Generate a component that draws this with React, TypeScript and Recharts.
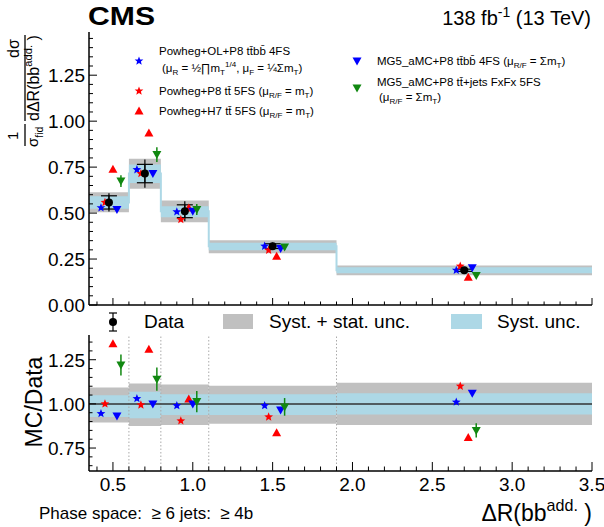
import React from 'react';
import {
    ComposedChart,
    Scatter,
    Line,
    XAxis,
    YAxis,
    ReferenceArea,
    ReferenceLine,
    ErrorBar
} from 'recharts';

const font = '"Liberation Sans", Arial, Helvetica, sans-serif';

// binning in dR(bb add.)
const binEdges = [0.35, 0.6, 0.8, 1.1, 1.9, 3.5];
const binCenters = [0.475, 0.7, 0.95, 1.5, 2.7];

// normalised cross section: data
const dataVal = [0.558, 0.715, 0.51, 0.32, 0.189];
const dataErrTot = [0.05, 0.077, 0.055, 0.02, 0.01];
const dataErrSyst = [0.036, 0.05, 0.035, 0.013, 0.006];
const totLo = [0.504, 0.632, 0.45, 0.282, 0.162];
const totHi = [0.613, 0.796, 0.568, 0.352, 0.215];
const systLo = [0.523, 0.664, 0.477, 0.298, 0.173];
const systHi = [0.591, 0.764, 0.537, 0.338, 0.205];

// predictions
const powOL = [0.529, 0.736, 0.507, 0.32, 0.189];
const powP8 = [0.558, 0.715, 0.465, 0.298, 0.211];
const powH7 = [0.739, 0.935, 0.528, 0.265, 0.151];
const mgTtbb = [0.52, 0.715, 0.51, 0.307, 0.202];
const mgFxFx = [0.674, 0.818, 0.519, 0.315, 0.16];
const mgFxFxErr = [0.032, 0.04, 0.03, 0.016, 0.008];

// MC / data
const rPowOL = [0.945, 1.03, 0.99, 0.99, 1.01];
const rPowP8 = [1.0, 0.994, 0.904, 0.926, 1.1];
const rPowH7 = [1.34, 1.31, 1.027, 0.837, 0.81];
const rMgTtbb = [0.932, 1.0, 1.0, 0.966, 1.06];
const rMgFxFx = [1.22, 1.14, 1.013, 0.983, 0.85];
const rMgFxFxErr = [0.06, 0.066, 0.06, 0.05, 0.04];
const rTotLo = [0.894, 0.875, 0.88, 0.888, 0.88];
const rTotHi = [1.093, 1.115, 1.11, 1.102, 1.12];
const rSystLo = [0.926, 0.919, 0.937, 0.937, 0.94];
const rSystHi = [1.049, 1.068, 1.055, 1.055, 1.06];

// axis ticks
const xMajor = [0.5, 1.0, 1.5, 2.0, 2.5, 3.0, 3.5];
const yTopMajor = [0, 0.25, 0.5, 0.75, 1.0, 1.25];
const yRatioMajor = [0.75, 1.0, 1.25];

const fill = (from: number, to: number, step: number) => {
    const out: number[] = [];
    for (let i = Math.round(from / step); i <= Math.round(to / step); i++) out.push(+(i * step).toFixed(3));
    return out;
};
const xTicks = fill(0.4, 3.5, 0.1);
const yTopTicks = fill(0, 1.45, 0.05);
const yRatioTicks = fill(0.65, 1.35, 0.05);

// horizontal dodge of the markers inside a bin
const off = { powOL: -0.05, powP8: -0.025, data: 0, powH7: 0.025, mgTtbb: 0.05, mgFxFx: 0.075 };

const pts = (vals: number[], dx: number, err?: number[], err2?: number[]) =>
    vals.map((y, i) => ({ x: binCenters[i] + dx, y, e: err ? err[i] : 0, s: err2 ? err2[i] : 0 }));

const stepData = binEdges.map((x, i) => ({ x, y: dataVal[Math.min(i, dataVal.length - 1)] }));

const BLUE = '#0000ff';
const RED = '#ff0000';
const GREEN = '#118811';
const GREY = '#c0c0c0';
const LBLUE = '#add8e6';

function starPath(cx: number, cy: number, R: number, r: number) {
    let d = '';
    for (let k = 0; k < 10; k++) {
        const a = -Math.PI / 2 + (k * Math.PI) / 5;
        const rad = k % 2 === 0 ? R : r;
        d += (k ? 'L' : 'M') + (cx + rad * Math.cos(a)).toFixed(2) + ',' + (cy + rad * Math.sin(a)).toFixed(2);
    }
    return d + 'Z';
}

const Star = (color: string) => (p: any) =>
    p.cx == null ? <g /> : <path d={starPath(p.cx, p.cy, 4.6, 2)} fill={color} />;
const TriUp = (color: string) => (p: any) =>
    p.cx == null ? <g /> : <path d={`M${p.cx},${p.cy - 4.5}L${p.cx + 4.5},${p.cy + 3.5}L${p.cx - 4.5},${p.cy + 3.5}Z`} fill={color} />;
const TriDown = (color: string) => (p: any) =>
    p.cx == null ? <g /> : <path d={`M${p.cx},${p.cy + 4.5}L${p.cx + 4.5},${p.cy - 3.5}L${p.cx - 4.5},${p.cy - 3.5}Z`} fill={color} />;
const Dot = (p: any) => (p.cx == null ? <g /> : <circle cx={p.cx} cy={p.cy} r={4} fill="#000" />);

function makeTick(side: string, step: number, maj: number, min: number, label?: (v: number) => string) {
    return (p: any) => {
        const { x, y, payload } = p;
        const v = payload.value;
        const major = Math.abs(v / step - Math.round(v / step)) < 1e-6;
        const l = major ? maj : min;
        let x2 = x, y2 = y;
        if (side === 'b') y2 = y - l;
        else if (side === 't') y2 = y + l;
        else if (side === 'l') x2 = x + l;
        else x2 = x - l;
        return (
            <g>
                <line x1={x} y1={y} x2={x2} y2={y2} stroke="#000" strokeWidth={1} />
                {major && label && side === 'b' && (
                    <text x={x} y={y + 20} textAnchor="middle" fontSize={19} fontFamily={font} fill="#000">{label(v)}</text>
                )}
                {major && label && side === 'l' && (
                    <text x={x - 4} y={y + 7} textAnchor="end" fontSize={19} fontFamily={font} fill="#000">{label(v)}</text>
                )}
            </g>
        );
    };
}

const frame = { stroke: '#000', strokeWidth: 1.5 };

function Rich({ x, y, size, parts, anchor }: { x: number; y: number; size: number; parts: [string, string][]; anchor?: string }) {
    let cur = 0;
    return (
        <text x={x} y={y} fontSize={size} fontFamily={font} textAnchor={anchor || 'start'} fill="#000" style={{ whiteSpace: 'pre' }}>
            {parts.map(([t, k], i) => {
                const target = k === 'sub' ? size * 0.3 : k === 'sup' ? -size * 0.42 : 0;
                const dy = target - cur;
                cur = target;
                return (
                    <tspan key={i} dy={dy} fontSize={k === 'n' ? size : size * 0.7}>{t}</tspan>
                );
            })}
        </text>
    );
}

function TopPanel() {
    return (
        <ComposedChart width={604} height={318} margin={{ top: 32, right: 12, bottom: 0, left: 0 }}>
            <XAxis xAxisId={0} dataKey="x" type="number" domain={[0.35, 3.5]} ticks={xTicks} interval={0}
                tickSize={0} tickMargin={0} tickLine={false} axisLine={frame} height={13} allowDataOverflow
                tick={makeTick('b', 0.5, 7, 3.5)} />
            <XAxis xAxisId="t" orientation="top" type="number" domain={[0.35, 3.5]} ticks={xTicks} interval={0}
                tickSize={0} tickMargin={0} tickLine={false} axisLine={frame} height={0} allowDataOverflow
                tick={makeTick('t', 0.5, 7, 3.5)} />
            <YAxis yAxisId={0} dataKey="y" type="number" domain={[0, 1.485]} ticks={yTopTicks} interval={0}
                tickSize={0} tickMargin={0} tickLine={false} axisLine={frame} width={89} allowDataOverflow
                tick={makeTick('l', 0.25, 8, 4, (v) => v.toFixed(2))} />
            <YAxis yAxisId="r" orientation="right" type="number" domain={[0, 1.485]} ticks={yTopTicks} interval={0}
                tickSize={0} tickMargin={0} tickLine={false} axisLine={frame} width={0} allowDataOverflow
                tick={makeTick('r', 0.25, 8, 4)} />

            {binCenters.map((_, i) => (
                <ReferenceArea key={'g' + i} x1={binEdges[i]} x2={binEdges[i + 1]} y1={totLo[i]} y2={totHi[i]}
                    fill={GREY} fillOpacity={1} stroke="none" ifOverflow="hidden" />
            ))}
            {binCenters.map((_, i) => (
                <ReferenceArea key={'b' + i} x1={binEdges[i]} x2={binEdges[i + 1]} y1={systLo[i]} y2={systHi[i]}
                    fill={LBLUE} fillOpacity={1} stroke="none" ifOverflow="hidden" />
            ))}
            <Line data={stepData} dataKey="y" type="stepAfter" stroke={LBLUE} strokeWidth={2} dot={false}
                isAnimationActive={false} />

            <Scatter data={pts(powOL, off.powOL)} shape={Star(BLUE)} isAnimationActive={false} />
            <Scatter data={pts(powP8, off.powP8)} shape={Star(RED)} isAnimationActive={false} />
            <Scatter data={pts(powH7, off.powH7)} shape={TriUp(RED)} isAnimationActive={false} />
            <Scatter data={pts(mgTtbb, off.mgTtbb)} shape={TriDown(BLUE)} isAnimationActive={false} />
            <Scatter data={pts(mgFxFx, off.mgFxFx, mgFxFxErr)} shape={TriDown(GREEN)} isAnimationActive={false}>
                <ErrorBar dataKey="e" direction="y" width={0} stroke={GREEN} strokeWidth={1.5} />
            </Scatter>
            <Scatter data={pts(dataVal, off.data, dataErrTot, dataErrSyst)} shape={Dot} isAnimationActive={false}>
                <ErrorBar dataKey="e" direction="y" width={0} stroke="#000" strokeWidth={1.2} />
                <ErrorBar dataKey="s" direction="y" width={8} stroke="#000" strokeWidth={1.2} />
            </Scatter>
        </ComposedChart>
    );
}

function RatioPanel() {
    return (
        <ComposedChart width={604} height={221} margin={{ top: 29, right: 12, bottom: 0, left: 0 }}>
            <XAxis xAxisId={0} dataKey="x" type="number" domain={[0.35, 3.5]} ticks={xTicks} interval={0}
                tickSize={0} tickMargin={0} tickLine={false} axisLine={frame} height={56} allowDataOverflow
                tick={makeTick('b', 0.5, 9, 4.5, (v) => v.toFixed(1))} />
            <XAxis xAxisId="t" orientation="top" type="number" domain={[0.35, 3.5]} ticks={xTicks} interval={0}
                tickSize={0} tickMargin={0} tickLine={false} axisLine={frame} height={0} allowDataOverflow
                tick={makeTick('t', 0.5, 9, 4.5)} />
            <YAxis yAxisId={0} dataKey="y" type="number" domain={[0.62, 1.39]} ticks={yRatioTicks} interval={0}
                tickSize={0} tickMargin={0} tickLine={false} axisLine={frame} width={89} allowDataOverflow
                tick={makeTick('l', 0.25, 7, 3.5, (v) => v.toFixed(2))} />
            <YAxis yAxisId="r" orientation="right" type="number" domain={[0.62, 1.39]} ticks={yRatioTicks} interval={0}
                tickSize={0} tickMargin={0} tickLine={false} axisLine={frame} width={0} allowDataOverflow
                tick={makeTick('r', 0.25, 7, 3.5)} />

            {binCenters.map((_, i) => (
                <ReferenceArea key={'g' + i} x1={binEdges[i]} x2={binEdges[i + 1]} y1={rTotLo[i]} y2={rTotHi[i]}
                    fill={GREY} fillOpacity={1} stroke="none" ifOverflow="hidden" />
            ))}
            {binCenters.map((_, i) => (
                <ReferenceArea key={'b' + i} x1={binEdges[i]} x2={binEdges[i + 1]} y1={rSystLo[i]} y2={rSystHi[i]}
                    fill={LBLUE} fillOpacity={1} stroke="none" ifOverflow="hidden" />
            ))}
            {binEdges.slice(1, -1).map((e) => (
                <ReferenceLine key={'v' + e} x={e} stroke="#aaa" strokeWidth={1} strokeDasharray="1.5 2" />
            ))}
            <ReferenceLine y={1} stroke="#333" strokeWidth={1.5} />

            <Scatter data={pts(rPowOL, off.powOL)} shape={Star(BLUE)} isAnimationActive={false} />
            <Scatter data={pts(rPowP8, off.powP8)} shape={Star(RED)} isAnimationActive={false} />
            <Scatter data={pts(rPowH7, off.powH7)} shape={TriUp(RED)} isAnimationActive={false} />
            <Scatter data={pts(rMgTtbb, off.mgTtbb)} shape={TriDown(BLUE)} isAnimationActive={false} />
            <Scatter data={pts(rMgFxFx, off.mgFxFx, rMgFxFxErr)} shape={TriDown(GREEN)} isAnimationActive={false}>
                <ErrorBar dataKey="e" direction="y" width={0} stroke={GREEN} strokeWidth={1.5} />
            </Scatter>
        </ComposedChart>
    );
}

function Overlay() {
    const fs = 11.5;
    return (
        <svg width={604} height={527} style={{ position: 'absolute', left: 0, top: 0, pointerEvents: 'none' }}>
            <text x={88} y={25} fontSize={26} fontWeight="bold" fontFamily={font} textLength={67} lengthAdjust="spacingAndGlyphs">CMS</text>
            <Rich x={591} y={25} size={20} anchor="end" parts={[['138 fb', 'n'], ['-1', 'sup'], [' (13 TeV)', 'n']]} />

            {/* legend, upper left */}
            {Star(BLUE)({ cx: 139, cy: 61 })}
            {Star(RED)({ cx: 139, cy: 91 })}
            {TriUp(RED)({ cx: 139, cy: 111 })}
            <Rich x={159} y={55} size={fs} parts={[['Powheg+OL+P8 tt\u0304bb\u0304 4FS', 'n']]} />
            <Rich x={162} y={72} size={fs} parts={[['(\u03bc', 'n'], ['R', 'sub'], [' = \u00bd\u220fm', 'n'], ['T', 'sub'], ['1/4', 'sup'], [', \u03bc', 'n'], ['F', 'sub'], [' = \u00bc\u03a3m', 'n'], ['T', 'sub'], [')', 'n']]} />
            <Rich x={159} y={95} size={fs} parts={[['Powheg+P8 tt\u0304 5FS (\u03bc', 'n'], ['R/F', 'sub'], [' = m', 'n'], ['T', 'sub'], [')', 'n']]} />
            <Rich x={159} y={115} size={fs} parts={[['Powheg+H7 tt\u0304 5FS (\u03bc', 'n'], ['R/F', 'sub'], [' = m', 'n'], ['T', 'sub'], [')', 'n']]} />

            {/* legend, upper right */}
            {TriDown(BLUE)({ cx: 357, cy: 61 })}
            {TriDown(GREEN)({ cx: 357, cy: 88 })}
            <Rich x={377} y={65} size={fs} parts={[['MG5_aMC+P8 tt\u0304bb\u0304 4FS (\u03bc', 'n'], ['R/F', 'sub'], [' = \u03a3m', 'n'], ['T', 'sub'], [')', 'n']]} />
            <Rich x={377} y={86} size={fs} parts={[['MG5_aMC+P8 tt\u0304+jets FxFx 5FS', 'n']]} />
            <Rich x={379} y={101} size={fs} parts={[['(\u03bc', 'n'], ['R/F', 'sub'], [' = \u03a3m', 'n'], ['T', 'sub'], [')', 'n']]} />

            {/* legend between panels */}
            <line x1={113} x2={113} y1={313} y2={331} stroke="#000" strokeWidth={1.2} />
            <line x1={109} x2={117} y1={313} y2={313} stroke="#000" strokeWidth={1.2} />
            <line x1={109} x2={117} y1={331} y2={331} stroke="#000" strokeWidth={1.2} />
            <circle cx={113} cy={322} r={4} fill="#000" />
            <text x={144} y={328} fontSize={19} fontFamily={font}>Data</text>
            <rect x={223} y={314} width={30} height={15} fill={GREY} />
            <text x={269} y={328} fontSize={19} fontFamily={font}>Syst. + stat. unc.</text>
            <rect x={451} y={314} width={31} height={15} fill={LBLUE} />
            <text x={497} y={328} fontSize={19} fontFamily={font}>Syst. unc.</text>

            {/* y titles */}
            <g transform="rotate(-90)">
                <text x={-140} y={18} fontSize={15} fontFamily={font}>1</text>
                <Rich x={-147} y={38} size={15} parts={[['\u03c3', 'n'], ['fid', 'sub']]} />
                <Rich x={-121} y={39} size={16} parts={[['d\u0394R(bb', 'n'], ['add.', 'sup'], [' )', 'n']]} />
                <text x={-58} y={19} fontSize={16} fontFamily={font}>{'d\u03c3'}</text>
                <text x={-402} y={42} fontSize={23} fontFamily={font} textAnchor="middle">MC/Data</text>
            </g>
            <line x1={25} x2={25} y1={124} y2={146} stroke="#000" strokeWidth={1.3} />
            <line x1={25} x2={25} y1={35} y2={121} stroke="#000" strokeWidth={1.3} />

            {/* x title and phase space */}
            <Rich x={592} y={521} size={23} anchor="end" parts={[['\u0394R(bb', 'n'], ['add.', 'sup'], [' )', 'n']]} />
            <text x={39} y={519} fontSize={17} fontFamily={font} style={{ whiteSpace: 'pre' }}>{'Phase space:  \u2265 6 jets:  \u2265 4b'}</text>
        </svg>
    );
}

export default function App() {
    return (
        <div style={{ position: 'absolute', left: 0, top: 0, width: 604, height: 527, background: '#fff', fontFamily: font }}>
            <div style={{ position: 'absolute', left: 0, top: 0 }}>
                <TopPanel />
            </div>
            <div style={{ position: 'absolute', left: 0, top: 306 }}>
                <RatioPanel />
            </div>
            <Overlay />
        </div>
    );
}
